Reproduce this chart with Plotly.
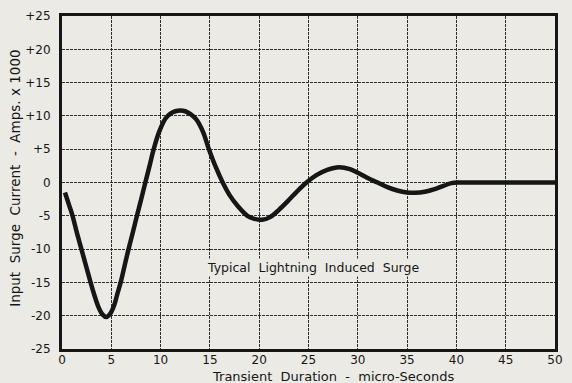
import plotly.graph_objects as go

# Surge current waveform (time in microseconds, current in kA)
time_us = [0.3, 0.7, 1.07, 1.5, 1.97, 2.45, 2.9, 3.3, 3.7, 4.1, 4.5, 4.9, 5.3,
           5.6, 5.95, 6.35, 6.75, 7.2, 7.6, 8.05, 8.45, 8.9, 9.3, 9.85, 10.5, 11.0,
           11.5, 12.0, 12.5, 13.0, 13.6, 14.3, 14.9, 15.6, 16.3, 17.0, 17.8,
           18.8, 19.5, 20.3, 21.1, 22.0, 22.9, 23.8, 24.8, 25.8, 26.9, 28.1,
           29.2, 30.2, 31.1, 32.0, 33.0, 34.0, 35.0, 35.8, 36.8, 37.8, 38.7,
           39.5, 40.2, 41.0, 50.0]
current_ka = [-1.5, -3.3, -5.0, -7.5, -10.0, -12.6, -15.0, -17.0, -18.7, -19.8,
              -20.2, -19.7, -18.4, -16.8, -15.0, -12.5, -10.0, -7.4, -5.0, -2.4,
              0.0, 2.6, 5.0, 7.6, 9.6, 10.35, 10.7, 10.8, 10.7, 10.3, 9.5, 7.6,
              5.0, 2.3, 0.0, -1.9, -3.5, -5.0, -5.45, -5.6, -5.2, -4.1, -2.8,
              -1.4, 0.0, 1.1, 1.9, 2.3, 2.0, 1.3, 0.6, 0.0, -0.7, -1.2, -1.5,
              -1.55, -1.4, -1.0, -0.5, -0.1, 0.0, 0.0, 0.0]

x_ticks = [0, 5, 10, 15, 20, 25, 30, 35, 40, 45, 50]
y_ticks = [25, 20, 15, 10, 5, 0, -5, -10, -15, -20, -25]
y_tick_labels = ["+25", "+20", "+15", "+10", "+5", "0",
                 "-5", "-10", "-15", "-20", "-25"]

paper = "#ebeae5"
ink = "#161616"
font_family = "DejaVu Sans, sans-serif"

fig = go.Figure()
fig.add_trace(go.Scatter(
    x=time_us, y=current_ka, mode="lines",
    line=dict(color=ink, width=4.5, shape="spline", smoothing=1.0),
    hoverinfo="skip", showlegend=False,
))

fig.add_annotation(
    x=25.5, y=-12.8, xref="x", yref="y",
    text="Typical  Lightning  Induced  Surge", showarrow=False,
    font=dict(family=font_family, size=12.5, color=ink),
    bgcolor=paper,
)
fig.add_annotation(
    x=0.55, y=0, xref="paper", yref="paper", xanchor="center", yanchor="middle",
    yshift=-27,
    text="Transient  Duration  -  micro-Seconds", showarrow=False,
    font=dict(family=font_family, size=13, color=ink),
)
fig.add_annotation(
    x=-0.094, y=0.513, xref="paper", yref="paper", xanchor="center",
    yanchor="middle", textangle=-90,
    text="Input  Surge  Current  -  Amps. x 1000", showarrow=False,
    font=dict(family=font_family, size=13.5, color=ink),
)

axis_common = dict(
    showline=True, linecolor=ink, linewidth=3, mirror=True,
    showgrid=True, gridcolor="#2e2e2e", gridwidth=1.2, griddash="3px,1px",
    zeroline=False, ticks="", ticklen=0,
    tickfont=dict(family=font_family, size=12, color=ink),
)

fig.update_xaxes(range=[0, 50], tickvals=x_ticks, ticklabelstandoff=-2, **axis_common)
fig.update_yaxes(range=[-25, 25], tickvals=y_ticks, ticktext=y_tick_labels,
                 ticklabelstandoff=6, **axis_common)

fig.update_layout(
    width=572, height=383,
    margin=dict(l=62, r=9, t=14, b=34),
    paper_bgcolor=paper, plot_bgcolor=paper,
)

fig.write_html("out.html")
